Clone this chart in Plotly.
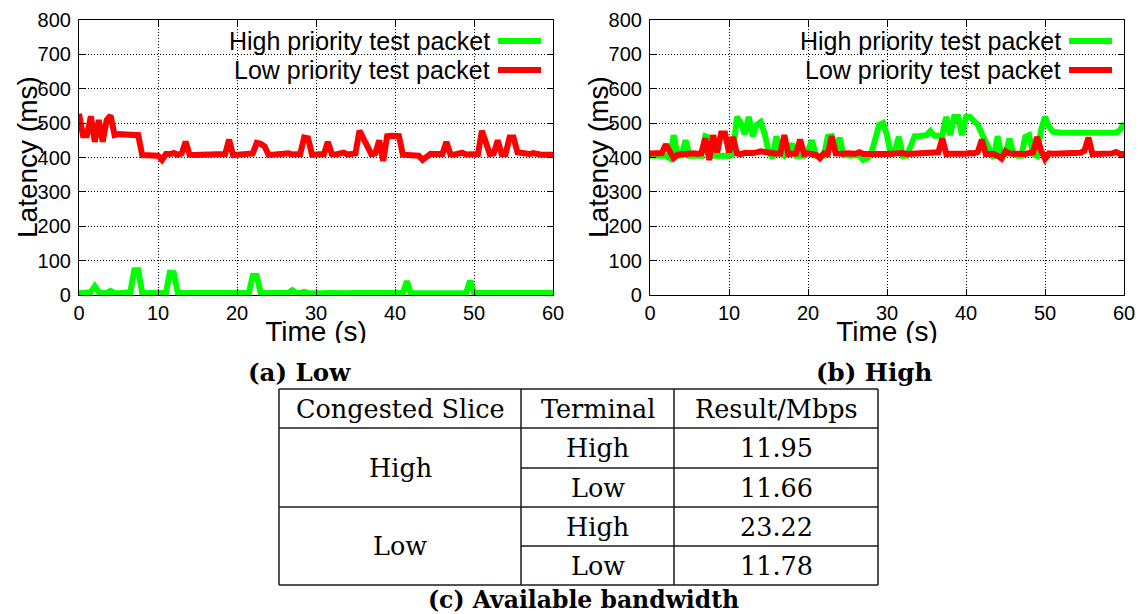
import plotly.graph_objects as go

W, H = 1139, 614

# ---- sampled latency traces (ms), one sample every 0.5 s ----
time_s = [
    0, 0.5, 1, 1.5, 2, 2.5, 3, 3.5, 4, 4.5,
    5, 5.5, 6, 6.5, 7, 7.5, 8, 8.5, 9, 9.5,
    10, 10.5, 11, 11.5, 12, 12.5, 13, 13.5, 14, 14.5,
    15, 15.5, 16, 16.5, 17, 17.5, 18, 18.5, 19, 19.5,
    20, 20.5, 21, 21.5, 22, 22.5, 23, 23.5, 24, 24.5,
    25, 25.5, 26, 26.5, 27, 27.5, 28, 28.5, 29, 29.5,
    30, 30.5, 31, 31.5, 32, 32.5, 33, 33.5, 34, 34.5,
    35, 35.5, 36, 36.5, 37, 37.5, 38, 38.5, 39, 39.5,
    40, 40.5, 41, 41.5, 42, 42.5, 43, 43.5, 44, 44.5,
    45, 45.5, 46, 46.5, 47, 47.5, 48, 48.5, 49, 49.5,
    50, 50.5, 51, 51.5, 52, 52.5, 53, 53.5, 54, 54.5,
    55, 55.5, 56, 56.5, 57, 57.5, 58, 58.5, 59, 59.5,
    60,
]

# (a) congested slice = Low
low_slice_high_pkt = [
    5, 5, 5, 8, 25, 8, 6, 6, 12, 6,
    5, 5, 6, 8, 72, 72, 6, 6, 6, 6,
    8, 6, 6, 65, 64, 6, 6, 6, 6, 6,
    6, 9, 6, 5, 5, 5, 5, 5, 5, 5,
    5, 5, 5, 6, 55, 55, 6, 6, 6, 9,
    6, 5, 5, 6, 14, 6, 6, 9, 6, 5,
    5, 5, 5, 6, 5, 5, 5, 5, 5, 6,
    6, 5, 6, 7, 6, 6, 9, 5, 5, 5,
    6, 6, 6, 40, 6, 5, 5, 6, 6, 6,
    5, 6, 6, 5, 5, 5, 6, 6, 6, 42,
    6, 6, 6, 9, 6, 6, 6, 6, 6, 6,
    6, 6, 6, 6, 6, 8, 6, 6, 6, 6,
    6,
]
low_slice_low_pkt = [
    527, 465, 465, 520, 446, 509, 446, 509, 522, 465,
    468, 468, 467, 466, 465, 465, 407, 407, 407, 407,
    405, 393, 410, 410, 413, 408, 412, 446, 408, 407,
    407, 408, 410, 408, 408, 408, 408, 410, 452, 407,
    408, 409, 410, 410, 412, 443, 440, 432, 408, 408,
    410, 408, 410, 412, 409, 410, 410, 458, 456, 408,
    408, 409, 410, 445, 410, 409, 410, 414, 409, 410,
    412, 478, 455, 432, 410, 412, 450, 390, 462, 463,
    463, 462, 408, 408, 407, 408, 405, 393, 405, 411,
    410, 412, 410, 445, 410, 408, 409, 414, 409, 408,
    410, 410, 478, 442, 410, 412, 450, 410, 410, 458,
    458, 415, 412, 411, 410, 413, 409, 408, 408, 408,
    408,
]

# (b) congested slice = High
high_slice_high_pkt = [
    406, 405, 405, 405, 405, 398, 465, 405, 406, 450,
    405, 405, 406, 405, 462, 458, 405, 405, 406, 405,
    405, 410, 518, 500, 468, 518, 462, 495, 503, 470,
    420, 398, 462, 410, 405, 420, 440, 405, 405, 405,
    420, 450, 405, 406, 405, 460, 462, 420, 458, 408,
    406, 405, 407, 405, 393, 398, 410, 460, 495, 500,
    465, 405, 420, 460, 405, 405, 440, 462, 462, 463,
    465, 477, 463, 463, 465, 518, 465, 518, 518, 465,
    518, 518, 505, 495, 470, 445, 420, 398, 462, 405,
    410, 455, 410, 405, 405, 460, 465, 410, 405, 480,
    518, 490, 475, 472, 472, 472, 471, 472, 472, 472,
    472, 472, 471, 472, 472, 472, 472, 473, 472, 480,
    500,
]
high_slice_low_pkt = [
    412, 412, 412, 413, 438, 415, 398, 408, 410, 411,
    412, 412, 411, 412, 456, 393, 465, 415, 470, 470,
    415, 460, 412, 410, 414, 412, 413, 415, 418, 416,
    413, 412, 411, 412, 465, 410, 411, 412, 452, 410,
    412, 411, 408, 398, 412, 410, 462, 412, 410, 411,
    412, 410, 411, 415, 410, 410, 411, 410, 411, 410,
    410, 411, 412, 410, 413, 410, 411, 410, 411, 412,
    413, 413, 414, 415, 455, 410, 411, 410, 411, 410,
    411, 413, 412, 416, 452, 410, 411, 410, 405, 397,
    418, 412, 411, 410, 411, 410, 413, 415, 460, 420,
    396, 412, 411, 411, 412, 411, 412, 413, 412, 414,
    420, 458, 410, 410, 411, 412, 411, 412, 416, 410,
    410,
]

x_ticks = [0, 10, 20, 30, 40, 50, 60]
y_ticks = [0, 100, 200, 300, 400, 500, 600, 700, 800]

legend_labels = ["High priority test packet", "Low priority test packet"]
series_colors = ["#00ff00", "#ff0000"]
x_title = "Time (s)"
y_title = "Latency (ms)"
panel_captions = ["(a) Low", "(b) High"]

# ---- bandwidth table ----
table_header = ["Congested Slice", "Terminal", "Result/Mbps"]
table_slices = ["High", "Low"]
table_terminals = ["High", "Low", "High", "Low"]
table_results = [11.95, 11.66, 23.22, 11.78]
table_caption = "(c) Available bandwidth"

SANS = "Liberation Sans, Arial, sans-serif"
SERIF = "DejaVu Serif, serif"


def fx(px):
    return px / W


def fy(py):
    return 1 - py / H


# pixel geometry of the two panels
panels = [
    dict(left=79, right=553, xa="x", ya="y",
         series=[low_slice_high_pkt, low_slice_low_pkt]),
    dict(left=650, right=1124, xa="x2", ya="y2",
         series=[high_slice_high_pkt, high_slice_low_pkt]),
]
PLOT_TOP, PLOT_BOTTOM = 20, 295

fig = go.Figure()

for p in panels:
    for vals, color, name in zip(p["series"], series_colors, legend_labels):
        fig.add_trace(go.Scatter(
            x=time_s, y=vals, mode="lines", name=name,
            line=dict(color=color, width=6),
            xaxis=p["xa"], yaxis=p["ya"], showlegend=False,
            hoverinfo="skip",
        ))

# axis titles below each panel, clipped by a thin strip above the captions
fig.add_trace(go.Scatter(
    x=[(panels[0]["left"] + panels[0]["right"]) / 2,
       (panels[1]["left"] + panels[1]["right"]) / 2],
    y=[334, 334], mode="text", text=[x_title, x_title],
    textfont=dict(family=SANS, size=28, color="black"),
    textposition="middle center", cliponaxis=True,
    xaxis="x3", yaxis="y3", showlegend=False, hoverinfo="skip",
))

axis_common = dict(
    showline=True, linecolor="black", linewidth=1.2, mirror="ticks",
    ticks="inside", ticklen=6, tickwidth=1, tickcolor="black",
    showgrid=True, gridcolor="black", gridwidth=1, griddash="1px,2px",
    zeroline=False, fixedrange=True, automargin=False,
    tickfont=dict(family=SANS, size=20, color="black"),
)

layout = dict(
    width=W, height=H, autosize=False,
    margin=dict(l=0, r=0, t=0, b=0, pad=0, autoexpand=False),
    paper_bgcolor="white", plot_bgcolor="white",
    showlegend=False,
    xaxis3=dict(domain=[0, 1], range=[0, W], visible=False, fixedrange=True),
    yaxis3=dict(domain=[fy(343), fy(306)], range=[343, 306],
                visible=False, fixedrange=True, anchor="x3"),
)
for i, p in enumerate(panels):
    sfx = "" if i == 0 else "2"
    layout["xaxis" + sfx] = dict(
        axis_common, domain=[fx(p["left"]), fx(p["right"])], range=[0, 60],
        tickvals=x_ticks, anchor="y" + sfx)
    layout["yaxis" + sfx] = dict(
        axis_common, domain=[fy(PLOT_BOTTOM), fy(PLOT_TOP)], range=[0, 800],
        tickvals=y_ticks, anchor="x" + sfx, ticklabelstandoff=3)
fig.update_layout(**layout)

annotations = []
shapes = []

# in-plot keys: text right-aligned, coloured sample to its right
for p in panels:
    for k, (label, color) in enumerate(zip(legend_labels, series_colors)):
        yk = 41 + 29 * k
        text_end = p["right"] - 61
        annotations.append(dict(
            x=fx(text_end), y=fy(yk), xref="paper", yref="paper",
            text=label, showarrow=False, xanchor="right", yanchor="middle",
            font=dict(family=SANS, size=25, color="black")))
        shapes.append(dict(
            type="line", xref="paper", yref="paper",
            x0=fx(text_end + 6), x1=fx(text_end + 49), y0=fy(yk), y1=fy(yk),
            line=dict(color=color, width=6)))
    annotations.append(dict(
        x=fx(p["left"] - 52), y=fy(157), xref="paper", yref="paper",
        text=y_title, textangle=-90, showarrow=False,
        xanchor="center", yanchor="middle",
        font=dict(family=SANS, size=28, color="black")))

# panel captions
for cx, cap in zip([299, 874], panel_captions):
    annotations.append(dict(
        x=fx(cx), y=fy(372), xref="paper", yref="paper", text=cap,
        showarrow=False, xanchor="center", yanchor="middle",
        font=dict(family=SERIF, size=24.5, color="black", weight="bold")))

# table grid
col_x = [279, 521, 674, 878]
row_y = [389, 428, 468, 507, 546, 585]
grid_line = dict(color="#1a1a1a", width=1.5)
for yv in row_y:
    inner = yv in (row_y[2], row_y[4])
    shapes.append(dict(type="line", xref="paper", yref="paper",
                       x0=fx(col_x[1] if inner else col_x[0]), x1=fx(col_x[-1]),
                       y0=fy(yv), y1=fy(yv), line=grid_line))
for xv in col_x:
    shapes.append(dict(type="line", xref="paper", yref="paper",
                       x0=fx(xv), x1=fx(xv), y0=fy(row_y[0]), y1=fy(row_y[-1]),
                       line=grid_line))

cell_font = dict(family=SERIF, size=25.5, color="black")
col_c = [(col_x[i] + col_x[i + 1]) / 2 for i in range(3)]
row_c = [(row_y[i] + row_y[i + 1]) / 2 for i in range(5)]


def cell(xc, yc, txt):
    annotations.append(dict(
        x=fx(xc), y=fy(yc), xref="paper", yref="paper", text=txt,
        showarrow=False, xanchor="center", yanchor="middle", font=cell_font))


for j, h in enumerate(table_header):
    cell(col_c[j], row_c[0], h)
for s, name in enumerate(table_slices):
    cell(col_c[0], (row_y[1 + 2 * s] + row_y[3 + 2 * s]) / 2, name)
for r, (term, res) in enumerate(zip(table_terminals, table_results)):
    cell(col_c[1], row_c[r + 1], term)
    cell(col_c[2], row_c[r + 1], f"{res:.2f}")

annotations.append(dict(
    x=fx(583), y=fy(600), xref="paper", yref="paper", text=table_caption,
    showarrow=False, xanchor="center", yanchor="middle",
    font=dict(family=SERIF, size=23.5, color="black", weight="bold")))

fig.update_layout(annotations=annotations, shapes=shapes)
fig.write_html("out.html")
